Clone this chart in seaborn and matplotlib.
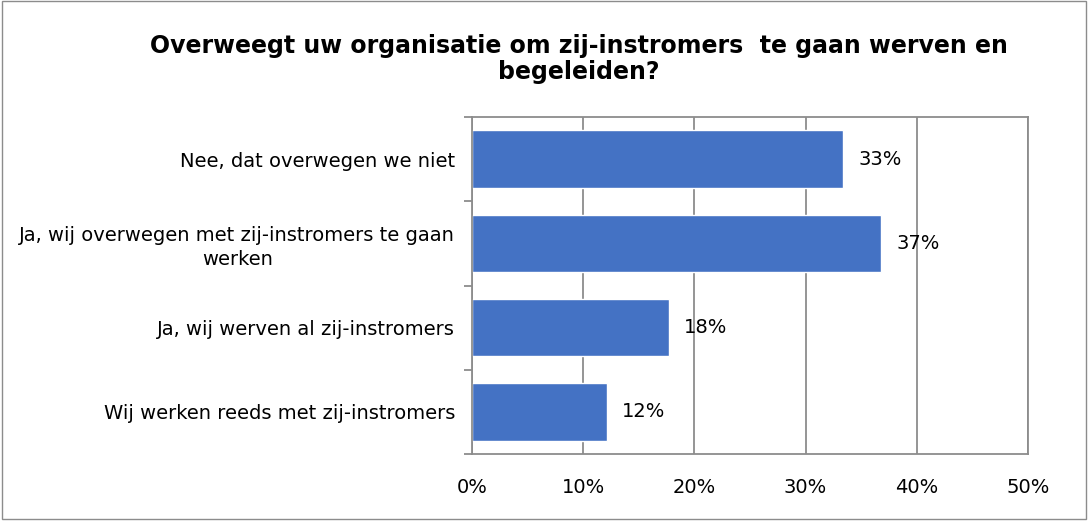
import pandas as pd
import seaborn as sns
import matplotlib.pyplot as plt
from matplotlib.patches import Rectangle
from matplotlib.ticker import MultipleLocator, FixedLocator, PercentFormatter


# Data-
categories = ["Nee, dat overwegen we niet",
              "Ja, wij overwegen met zij-instromers te gaan\nwerken",
              "Ja, wij werven al zij-instromers",
              "Wij werken reeds met zij-instromers"]
values = [33.4, 36.8, 17.7, 12.1]
value_labels = ["33%", "37%", "18%", "12%"]

title = "Overweegt uw organisatie om zij-instromers  te gaan werven en\nbegeleiden?"

df = pd.DataFrame({"antwoord": categories, "percentage": values})

sns.set_style("white")
plt.rcParams['font.family'] = ['DejaVu Sans']
plt.rcParams['text.color'] = 'black'
plt.rcParams['xtick.color'] = 'black'
plt.rcParams['ytick.color'] = 'black'

fig = plt.figure(figsize=(10.88, 5.21), dpi=100)
ax = fig.add_axes([0.4338, 0.1286, 0.5111, 0.6468])

sns.barplot(data=df, x="percentage", y="antwoord", orient="h",
            color="#4472C4", saturation=1, width=0.68, ax=ax)

# Data labels-
ax.bar_label(ax.containers[0], labels=value_labels, padding=11, fontsize=14)

# Axes-
ax.set_xlim(0, 50)
ax.set_ylim(3.5, -0.5)
ax.xaxis.set_major_locator(MultipleLocator(10))
ax.xaxis.set_major_formatter(PercentFormatter(decimals=0))
ax.grid(axis="x", color="#8c8c8c", linewidth=1.3)
ax.set_axisbelow(True)
ax.set_xlabel("")
ax.set_ylabel("")

for s in ax.spines.values():
    s.set_color("#8c8c8c")
    s.set_linewidth(1.3)

ax.tick_params(axis="x", length=0, pad=17, labelsize=14, labelcolor="black")
ax.tick_params(axis="y", which="major", length=0, pad=12, labelsize=14, labelcolor="black")
ax.yaxis.set_minor_locator(FixedLocator([-0.5, 0.5, 1.5, 2.5, 3.5]))
ax.tick_params(axis="y", which="minor", left=True, length=6, width=1.3, color="#8c8c8c")
for lbl in ax.get_yticklabels():
    lbl.set_multialignment("center")
    lbl.set_linespacing(1.3)

# Title-
fig.text(0.532, 0.935, title, ha="center", va="top", fontsize=17,
         fontweight="bold", linespacing=1.12)

# Chart border-
fig.patches.append(Rectangle((0.002, 0.004), 0.996, 0.994, transform=fig.transFigure,
                             fill=False, edgecolor="#8c8c8c", linewidth=1))

fig.savefig("out.png", dpi=100)
